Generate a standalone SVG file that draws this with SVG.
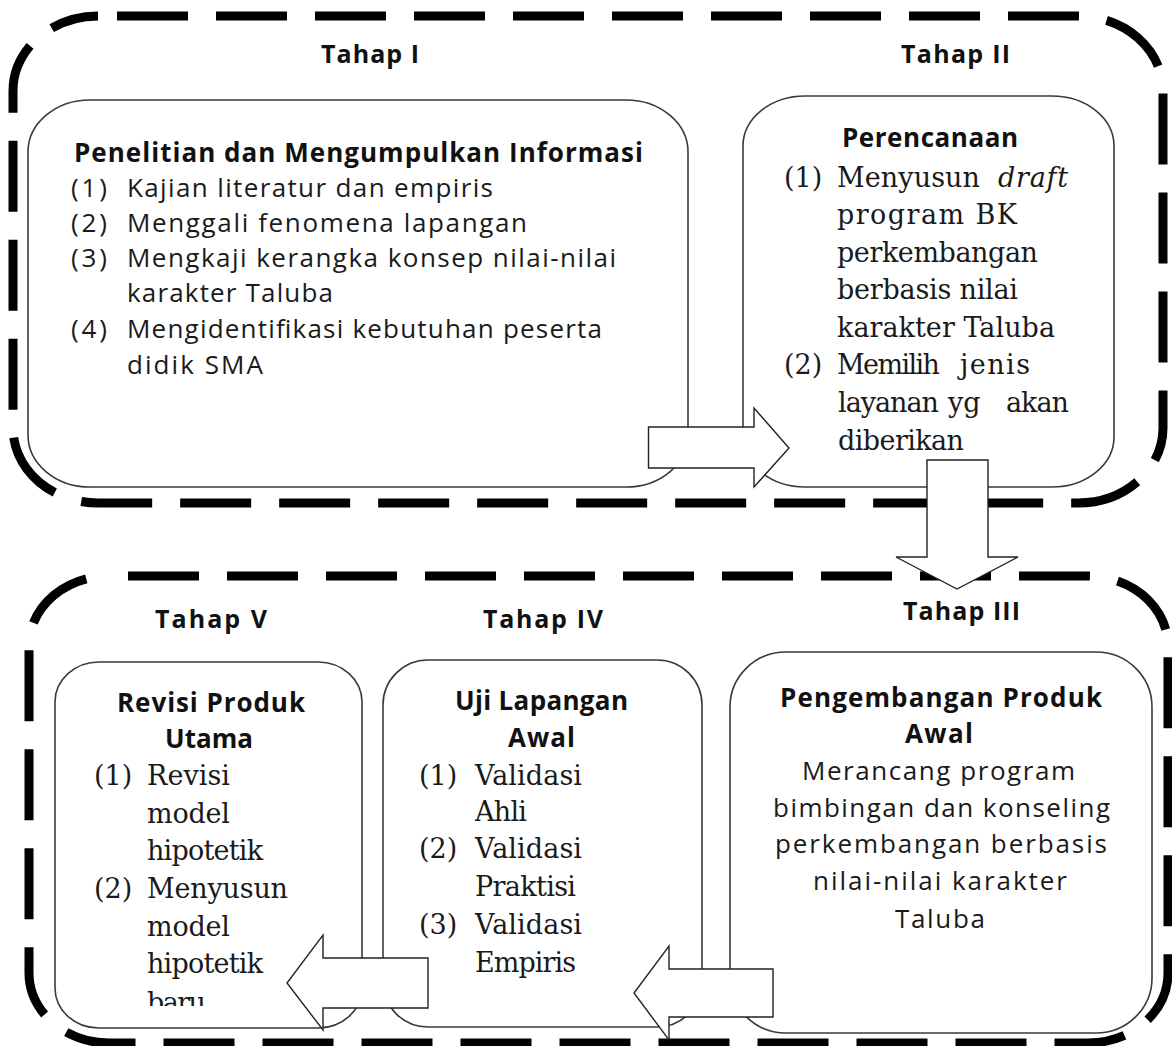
<svg xmlns="http://www.w3.org/2000/svg" width="1172" height="1046" viewBox="0 0 1172 1046">
<style>
.grp{fill:none;stroke:#000;stroke-width:9;stroke-dasharray:71 28}
.box{fill:#fff;stroke:#3a3a3a;stroke-width:1.6}
.arr{fill:#fff;stroke:#222;stroke-width:1.4;stroke-linejoin:miter}
.h{font-family:"Open Sans","Liberation Sans",sans-serif;font-weight:700;font-size:26px;fill:#111}
.t{font-size:25px}
.s{font-family:"Open Sans","Liberation Sans",sans-serif;font-size:26px;fill:#1a1a1a}
.r{font-family:"DejaVu Serif","Liberation Serif",serif;font-size:27px;fill:#1a1a1a}
.i{font-style:italic}
</style>
<defs>
<clipPath id="clipV"><rect x="55" y="662" width="307" height="344"/></clipPath>
</defs>
<rect width="1172" height="1046" fill="#fff"/>

<g id="group-top">
<rect class="grp" x="13" y="16" width="1150" height="487" rx="85" ry="75" stroke-dashoffset="80"/>
<text class="h t" x="321" y="63" textLength="98">Tahap I</text>
<text class="h t" x="901" y="63" textLength="109">Tahap II</text>
</g>

<g id="node-penelitian">
<rect class="box" x="28" y="100" width="660" height="387" rx="62" ry="52"/>
<text class="h" x="74" y="162" textLength="569">Penelitian dan Mengumpulkan Informasi</text>
<text class="s" x="71" y="197" textLength="36">(1)</text>
<text class="s" x="127" y="197" textLength="366">Kajian literatur dan empiris</text>
<text class="s" x="71" y="232" textLength="36">(2)</text>
<text class="s" x="127" y="232" textLength="400">Menggali fenomena lapangan</text>
<text class="s" x="71" y="267" textLength="36">(3)</text>
<text class="s" x="127" y="267" textLength="489">Mengkaji kerangka konsep nilai-nilai</text>
<text class="s" x="127" y="302" textLength="206">karakter Taluba</text>
<text class="s" x="71" y="338" textLength="36">(4)</text>
<text class="s" x="127" y="338" textLength="475">Mengidentifikasi kebutuhan peserta</text>
<text class="s" x="127" y="374" textLength="136">didik SMA</text>
</g>

<g id="node-perencanaan">
<rect class="box" x="743" y="96" width="371" height="391" rx="62" ry="50"/>
<text class="h" x="842" y="147" textLength="176">Perencanaan</text>
<text class="r" x="784" y="187">(1)</text>
<text class="r" x="837" y="187" textLength="143">Menyusun</text>
<text class="r i" x="998" y="187" textLength="70">draft</text>
<text class="r" x="837" y="224" textLength="180">program BK</text>
<text class="r" x="837" y="262" textLength="201">perkembangan</text>
<text class="r" x="837" y="299" textLength="181">berbasis nilai</text>
<text class="r" x="837" y="337" textLength="218">karakter Taluba</text>
<text class="r" x="784" y="374">(2)</text>
<text class="r" x="837" y="374" textLength="103">Memilih</text>
<text class="r" x="960" y="374" textLength="70">jenis</text>
<text class="r" x="838" y="412" textLength="101">layanan</text>
<text class="r" x="948" y="412">yg</text>
<text class="r" x="1006" y="412" textLength="63">akan</text>
<text class="r" x="838" y="450" textLength="126">diberikan</text>
</g>

<g id="group-bottom">
<rect class="grp" x="29" y="576" width="1139" height="467" rx="80" ry="70" stroke-dashoffset="80"/>
<text class="h t" x="155" y="628" textLength="112">Tahap V</text>
<text class="h t" x="483" y="628" textLength="120">Tahap IV</text>
<text class="h t" x="903" y="620" textLength="117">Tahap III</text>
</g>

<g id="node-pengembangan">
<rect class="box" x="730" y="652" width="422" height="381" rx="56" ry="55"/>
<text class="h" x="780" y="707" textLength="322">Pengembangan Produk</text>
<text class="h" x="905" y="743" textLength="68">Awal</text>
<text class="s" x="802" y="780" textLength="273">Merancang program</text>
<text class="s" x="773" y="817" textLength="337">bimbingan dan konseling</text>
<text class="s" x="775" y="853" textLength="332">perkembangan berbasis</text>
<text class="s" x="813" y="890" textLength="254">nilai-nilai karakter</text>
<text class="s" x="895" y="928" textLength="90">Taluba</text>
</g>

<g id="node-uji">
<rect class="box" x="383" y="660" width="319" height="367" rx="45" ry="45"/>
<text class="h" x="455" y="710" textLength="173">Uji Lapangan</text>
<text class="h" x="508" y="747" textLength="67">Awal</text>
<text class="r" x="419" y="785">(1)</text>
<text class="r" x="475" y="785" textLength="107">Validasi</text>
<text class="r" x="475" y="821" textLength="52">Ahli</text>
<text class="r" x="419" y="858">(2)</text>
<text class="r" x="475" y="858" textLength="107">Validasi</text>
<text class="r" x="475" y="896" textLength="101">Praktisi</text>
<text class="r" x="419" y="934">(3)</text>
<text class="r" x="475" y="934" textLength="107">Validasi</text>
<text class="r" x="475" y="972" textLength="101">Empiris</text>
</g>

<g id="node-revisi">
<rect class="box" x="55" y="662" width="307" height="366" rx="44" ry="40"/>
<text class="h" x="117" y="712" textLength="188">Revisi Produk</text>
<text class="h" x="165" y="748" textLength="88">Utama</text>
<g clip-path="url(#clipV)">
<text class="r" x="94" y="785">(1)</text>
<text class="r" x="147" y="785" textLength="83">Revisi</text>
<text class="r" x="147" y="823" textLength="83">model</text>
<text class="r" x="147" y="860" textLength="116">hipotetik</text>
<text class="r" x="94" y="898">(2)</text>
<text class="r" x="147" y="898" textLength="141">Menyusun</text>
<text class="r" x="147" y="936" textLength="83">model</text>
<text class="r" x="147" y="973" textLength="116">hipotetik</text>
<text class="r" x="147" y="1012" textLength="59">baru</text>
</g>
</g>

<g id="connectors">
<polygon class="arr" points="648.5,427 754,427 754,408 789,448 754,487 754,468 648.5,468"/>
<polygon class="arr" points="927,460 988,460 988,557 1018,557 957,589 896,557 927,557"/>
<polygon class="arr" points="773,969 669,969 669,946 634,993 669,1040 669,1017 773,1017"/>
<polygon class="arr" points="428,958 323,958 323,935 287,983 323,1030 323,1008 428,1008"/>
</g>
</svg>
